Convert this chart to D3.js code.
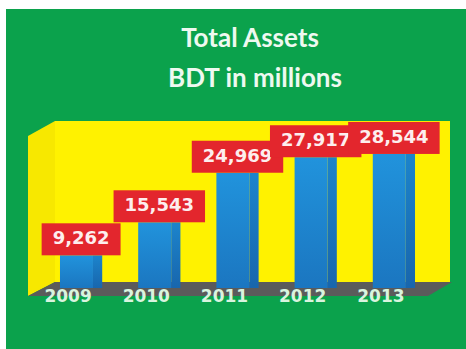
<!DOCTYPE html>
<html>
<head>
<meta charset="utf-8">
<script src="https://cdn.jsdelivr.net/npm/d3@7/dist/d3.min.js"></script>
<style>
  html, body { margin: 0; padding: 0; background: #ffffff; }
  svg { display: block; }
</style>
</head>
<body>
<svg id="chart" width="466" height="349"></svg>
<script>
// Total assets by year (BDT in millions)
const years = ["2009", "2010", "2011", "2012", "2013"];
const totalAssets = [9262, 15543, 24969, 27917, 28544];
const titleLines = ["Total Assets", "BDT in millions"];

const svg = d3.select("#chart");
const W = 466, H = 349;

// background panel
svg.append("rect").attr("x", 6).attr("y", 9).attr("width", W - 6).attr("height", H - 9)
  .attr("fill", "#0ba24c");

// scales
const x = d3.scaleBand().domain(years).range([42, 433]).paddingInner(0.46).paddingOuter(0.23);
const y = d3.scaleLinear().domain([0, 35000]).range([304, 120]);

// 3D frame: back wall, side wall, floor
const wallLeft = 55, wallRight = 450, wallTop = 121, wallBottom = 282;
const depthX = -27, depthY = 14;
const frame = svg.append("g");
frame.append("rect").attr("x", wallLeft).attr("y", wallTop)
  .attr("width", wallRight - wallLeft).attr("height", wallBottom - wallTop)
  .attr("fill", "#fff200");
frame.append("polygon")
  .attr("points", [[wallLeft + depthX, wallTop + 15], [wallLeft, wallTop], [wallLeft, wallBottom], [wallLeft + depthX, wallBottom + depthY]].join(" "))
  .attr("fill", "#f7e800");
frame.append("polygon")
  .attr("points", [[wallLeft, wallBottom], [wallRight + 2, wallBottom], [wallRight + 2 - 24, wallBottom + depthY], [wallLeft + depthX, wallBottom + depthY]].join(" "))
  .attr("fill", "#5b5b5b");

// bar gradient
const defs = svg.append("defs");
const grad = defs.append("linearGradient").attr("id", "barGrad")
  .attr("x1", 0).attr("y1", 0).attr("x2", 0).attr("y2", 1);
grad.append("stop").attr("offset", "0%").attr("stop-color", "#2193dc");
grad.append("stop").attr("offset", "100%").attr("stop-color", "#1b76c0");
const sideGrad = defs.append("linearGradient").attr("id", "sideGrad")
  .attr("x1", 0).attr("y1", 0).attr("x2", 0).attr("y2", 1);
sideGrad.append("stop").attr("offset", "0%").attr("stop-color", "#1c84cc");
sideGrad.append("stop").attr("offset", "100%").attr("stop-color", "#1866ad");

const floorY = 288;
const frontW = 33;
const data = years.map((yr, i) => ({ year: yr, value: totalAssets[i] }));

const bars = svg.append("g").selectAll("g").data(data).join("g");
bars.append("rect")
  .attr("x", d => x(d.year) + frontW)
  .attr("y", d => y(d.value))
  .attr("width", x.bandwidth() - frontW)
  .attr("height", d => floorY - y(d.value))
  .attr("fill", "url(#sideGrad)");
bars.append("rect")
  .attr("x", d => x(d.year))
  .attr("y", d => y(d.value))
  .attr("width", frontW)
  .attr("height", d => floorY - y(d.value))
  .attr("fill", "url(#barGrad)");

// category labels along the front edge of the floor
svg.append("g").selectAll("text").data(years).join("text")
  .attr("x", d => x(d) + x.bandwidth() / 2 - 13)
  .attr("y", 302)
  .attr("text-anchor", "middle")
  .attr("font-family", "DejaVu Sans, Verdana, sans-serif")
  .attr("font-weight", "bold")
  .attr("font-size", 17)
  .attr("fill", "#d9f4df")
  .text(d => d);

// value labels in red boxes
const fmt = d3.format(",");
const labels = svg.append("g").selectAll("g").data(data).join("g");
labels.each(function (d) {
  const g = d3.select(this);
  const cx = x(d.year) + x.bandwidth() / 2;
  const top = y(d.value);
  const t = g.append("text")
    .attr("x", cx)
    .attr("y", top - 11)
    .attr("text-anchor", "middle")
    .attr("font-family", "DejaVu Sans, Verdana, sans-serif")
    .attr("font-weight", "bold")
    .attr("font-size", 18)
    .attr("fill", "#fdeeee")
    .text(fmt(d.value));
  const w = t.node().getComputedTextLength() + 22;
  g.insert("rect", "text")
    .attr("x", cx - w / 2)
    .attr("y", top - 32)
    .attr("width", w)
    .attr("height", 32)
    .attr("fill", "#e3262d");
});

// titles
svg.append("text").attr("x", 250).attr("y", 47).attr("text-anchor", "middle")
  .attr("font-family", "Lato, sans-serif").attr("font-weight", "bold").attr("font-size", 26)
  .attr("fill", "#eef9f0").text(titleLines[0]);
svg.append("text").attr("x", 255).attr("y", 87).attr("text-anchor", "middle")
  .attr("font-family", "Lato, sans-serif").attr("font-weight", "bold").attr("font-size", 26)
  .attr("fill", "#eef9f0").text(titleLines[1]);
</script>
</body>
</html>
